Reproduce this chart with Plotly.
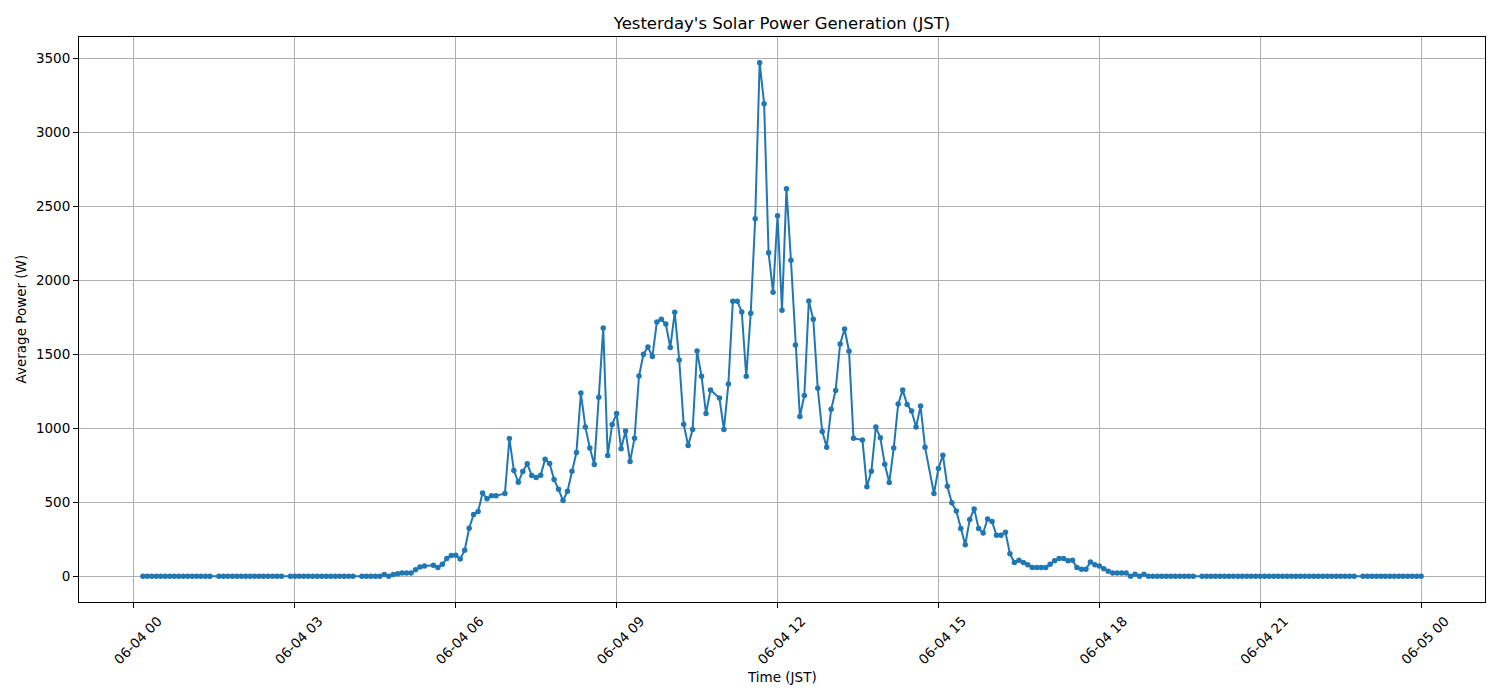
import pandas as pd
import plotly.graph_objects as go

# 5-minute slots from 06-04 00:00 to 06-05 00:00 (289 slots); None = no sample
slot_start = "2025-06-04 00:00"
slot_end = "2025-06-05 00:00"

# values per hour, slots :00 :05 :10 ... :55
h00 = [None, None, 0, 0, 0, 0, 0, 0, 0, 0, 0, 0]
h01 = [0, 0, 0, 0, 0, 0, None, 0, 0, 0, 0, 0]
h02 = [0, 0, 0, 0, 0, 0, 0, 0, 0, 0, None, 0]
h03 = [0, 0, 0, 0, 0, 0, 0, 0, 0, 0, 0, 0]
h04 = [0, 0, None, 0, 0, 0, 0, 0, 13, 0, 13, 17]
h05 = [22, 22, 22, 45, 63, 70, None, 74, 60, 81, 121, 141]
h06 = [142, 117, 176, 325, 418, 438, 564, 524, 544, 544, None, 560]
h07 = [932, 715, 636, 709, 761, 682, 668, 683, 792, 762, 655, 588]
h08 = [512, 576, 711, 837, 1239, 1009, 867, 756, 1210, 1679, 817, 1027]
h09 = [1101, 862, 982, 776, 934, 1354, 1502, 1550, 1486, 1720, 1738, 1706]
h10 = [1548, 1785, 1463, 1029, 885, 993, 1523, 1352, 1101, 1259, None, 1205]
h11 = [993, 1300, 1860, 1860, 1787, 1352, 1779, 2417, 3473, 3196, 2187, 1921]
h12 = [2438, 1799, 2620, 2137, 1564, 1081, 1223, 1862, 1738, 1271, 980, 873]
h13 = [1129, 1257, 1571, 1672, 1522, 934, None, 921, 605, 711, 1009, 937]
h14 = [758, 634, 867, 1165, 1259, 1162, 1117, 1009, 1151, 873, None, 560]
h15 = [729, 819, 609, 497, 441, 323, 214, 384, 456, 323, 293, 388]
h16 = [370, 278, 278, 298, 153, 93, 108, 93, 79, 59, 59, 59]
h17 = [59, 81, 106, 120, 120, 106, 108, 59, 47, 47, 96, 79]
h18 = [70, 52, 35, 23, 23, 23, 23, 0, 14, 0, 14, 0]
h19 = [0, 0, 0, 0, 0, 0, 0, 0, 0, 0, None, 0]
h20 = [0, 0, 0, 0, 0, 0, 0, 0, 0, 0, 0, 0]
h21 = [0, 0, 0, 0, 0, 0, 0, 0, 0, 0, 0, 0]
h22 = [0, 0, 0, 0, 0, 0, 0, 0, 0, 0, None, 0]
h23 = [0, 0, 0, 0, 0, 0, 0, 0, 0, 0, 0, 0]
h24 = [0]

power_w = (h00 + h01 + h02 + h03 + h04 + h05 + h06 + h07 + h08 + h09 + h10 + h11
           + h12 + h13 + h14 + h15 + h16 + h17 + h18 + h19 + h20 + h21 + h22 + h23 + h24)

times = pd.date_range(slot_start, slot_end, freq="5min")
df = pd.DataFrame({"time": times, "power": power_w}).dropna()

title_text = "Yesterday's Solar Power Generation (JST)"
xlabel = "Time (JST)"
ylabel = "Average Power (W)"

# matplotlib-like 5% margins
t0, t1 = df["time"].min(), df["time"].max()
tr = t1 - t0
x_range = [t0 - 0.05 * tr, t1 + 0.05 * tr]
v0, v1 = df["power"].min(), df["power"].max()
vr = v1 - v0
y_range = [v0 - 0.05 * vr, v1 + 0.05 * vr]

font_family = "DejaVu Sans"
blue = "#1f77b4"
grid = "#b0b0b0"

fig = go.Figure()
fig.add_trace(go.Scatter(
    x=df["time"], y=df["power"], mode="lines+markers",
    line=dict(color=blue, width=2),
    marker=dict(color=blue, size=5.5),
    connectgaps=True, showlegend=False,
))

axis_common = dict(
    showline=True, linecolor="black", linewidth=1.1, mirror=True,
    showgrid=True, gridcolor=grid, gridwidth=1.1,
    ticks="outside", ticklen=5, tickwidth=1.1, tickcolor="black",
    tickfont=dict(family=font_family, size=13.5, color="black"),
    zeroline=False,
)

fig.update_layout(
    width=1500, height=700,
    margin=dict(l=79, r=15, t=37, b=98),
    paper_bgcolor="white", plot_bgcolor="white",
    font=dict(family=font_family, color="black"),
    title=dict(text=title_text, x=0.5, xref="paper", y=1 - 23 / 700,
               yref="container", xanchor="center", yanchor="middle",
               font=dict(family=font_family, size=16.5, color="black")),
    xaxis=dict(axis_common, type="date", range=x_range,
               tick0="2025-06-04 00:00", dtick=3 * 3600 * 1000,
               tickformat="%m-%d %H", tickangle=-45, ticklabelshift=24),
    yaxis=dict(axis_common, range=y_range, tick0=0, dtick=500),
    annotations=[
        dict(text=xlabel, xref="paper", yref="paper", x=0.5, y=-(677 - 602) / 565,
             xanchor="center", yanchor="middle", showarrow=False,
             font=dict(family=font_family, size=13.5, color="black")),
        dict(text=ylabel, xref="paper", yref="paper", x=(20 - 79) / 1406, y=0.5,
             xanchor="center", yanchor="middle", textangle=-90, showarrow=False,
             font=dict(family=font_family, size=13.5, color="black")),
    ],
)

fig.write_html("out.html")
